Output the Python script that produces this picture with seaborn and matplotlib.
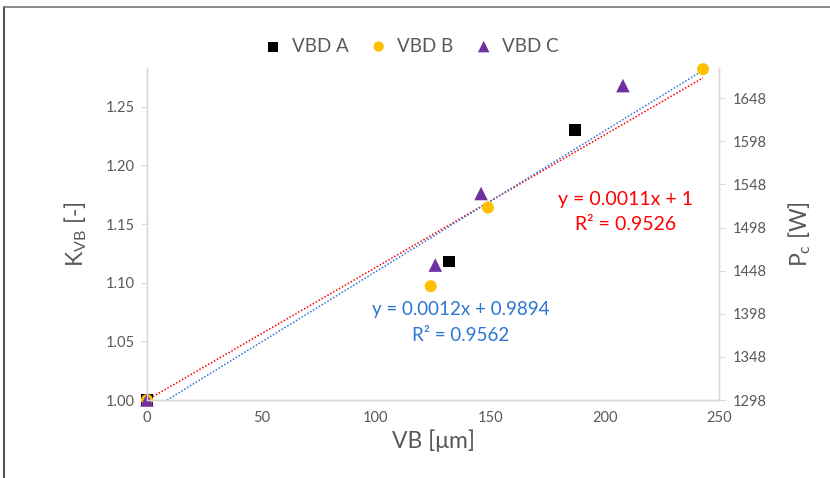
import numpy as np
import pandas as pd
import matplotlib
matplotlib.use("Agg")
import matplotlib.pyplot as plt
from matplotlib.lines import Line2D
import seaborn as sns

# ---- data ----
series = ["VBD A", "VBD B", "VBD C"]
vb_a = [0, 132, 187]
k_a = [1.000, 1.118, 1.230]
vb_b = [0, 124, 149, 243]
k_b = [1.000, 1.097, 1.164, 1.282]
vb_c = [0, 126, 146, 208]
k_c = [1.000, 1.115, 1.176, 1.268]

x_ticks = [0, 50, 100, 150, 200, 250]
left_ticks = [1.00, 1.05, 1.10, 1.15, 1.20, 1.25]
right_ticks = [1298, 1348, 1398, 1448, 1498, 1548, 1598, 1648]

# trend lines: slope, intercept, x-range
red_fit = [0.00113, 1.0]
blue_fit = [0.0012, 0.9894]
fit_x = [0, 243]
red_text = "y = 0.0011x + 1\nR² = 0.9526"
blue_text = "y = 0.0012x + 0.9894\nR² = 0.9562"

colors = ["#000000", "#FFC000", "#7030A0"]
markers = ["s", "o", "^"]
sizes = [70, 75, 95]

sns.set_theme(style="white")
plt.rcParams["font.family"] = ["Lato", "DejaVu Sans"]
plt.rcParams["mathtext.fontset"] = "custom"
plt.rcParams["mathtext.rm"] = "Lato"
plt.rcParams["mathtext.it"] = "Lato"

df = pd.concat([
    pd.DataFrame({"VB": vb_a, "K": k_a, "Series": series[0]}),
    pd.DataFrame({"VB": vb_b, "K": k_b, "Series": series[1]}),
    pd.DataFrame({"VB": vb_c, "K": k_c, "Series": series[2]}),
])

fig = plt.figure(figsize=(8.3, 4.78), dpi=100)
ax = fig.add_axes([147 / 830, 78 / 478, 572 / 830, 332 / 478])

grey = "#595959"
spine_c = "#D9D9D9"

# trend lines
xs = np.array(fit_x, dtype=float)
ax.plot(xs, red_fit[0] * xs + red_fit[1], color="#FF0000", lw=1.1,
        linestyle=(0, (1, 1.2)), zorder=2)
ax.plot(xs, blue_fit[0] * xs + blue_fit[1], color="#2E75D6", lw=1.1,
        linestyle=(0, (1, 1.2)), zorder=2)

for i, s in enumerate(series):
    sub = df[df["Series"] == s]
    sns.scatterplot(data=sub, x="VB", y="K", ax=ax, color=colors[i],
                    marker=markers[i], s=sizes[i], edgecolor="none",
                    label=s, zorder=3, clip_on=False)

ax.set_xlim(0, 250)
ax.set_ylim(1.0, 1.283)
ax.set_xticks(x_ticks)
ax.set_yticks(left_ticks)
ax.set_yticklabels([f"{v:.2f}" for v in left_ticks])

ax2 = ax.twinx()
ax2.set_ylim(1298, 1683)
ax2.set_yticks(right_ticks)

for a in (ax, ax2):
    for sp in a.spines.values():
        sp.set_color(spine_c)
        sp.set_linewidth(1.0)
    a.spines["top"].set_visible(False)
    a.tick_params(colors=grey, labelsize=10.5, length=4, width=0.8,
                  direction="out", color=spine_c)
ax.tick_params(axis="x", pad=4)
ax.tick_params(axis="y", pad=5)
ax2.tick_params(axis="y", pad=6)

ax.set_xlabel("VB [μm]", fontsize=16.5, color=grey, labelpad=3)
ax.set_ylabel(r"K$_\mathrm{VB}$ [-]", fontsize=16.5, color=grey, labelpad=12)
ax2.set_ylabel(r"P$_\mathrm{c}$ [W]", fontsize=16.5, color=grey, labelpad=14)

ax.text(209, 1.160, red_text, color="#FF0000", fontsize=14,
        ha="center", va="center", linespacing=1.55)
ax.text(137, 1.066, blue_text, color="#2E75D6", fontsize=13.5,
        ha="center", va="center", linespacing=1.6)

ax.legend(loc="center", bbox_to_anchor=(0.49, 1 - 46 / 478),
          bbox_transform=fig.transFigure, ncol=3, frameon=False,
          fontsize=13.5, labelcolor=grey, handletextpad=0.0,
          columnspacing=0.6, markerscale=0.85)

fig.add_artist(Line2D([4 / 830, 4 / 830], [0, 1 - 7 / 478],
                      transform=fig.transFigure, color="#555555", lw=1.5))
fig.add_artist(Line2D([4 / 830, 1], [1 - 7 / 478, 1 - 7 / 478],
                      transform=fig.transFigure, color="#777777", lw=1.2))

fig.savefig("out.png", dpi=100)
